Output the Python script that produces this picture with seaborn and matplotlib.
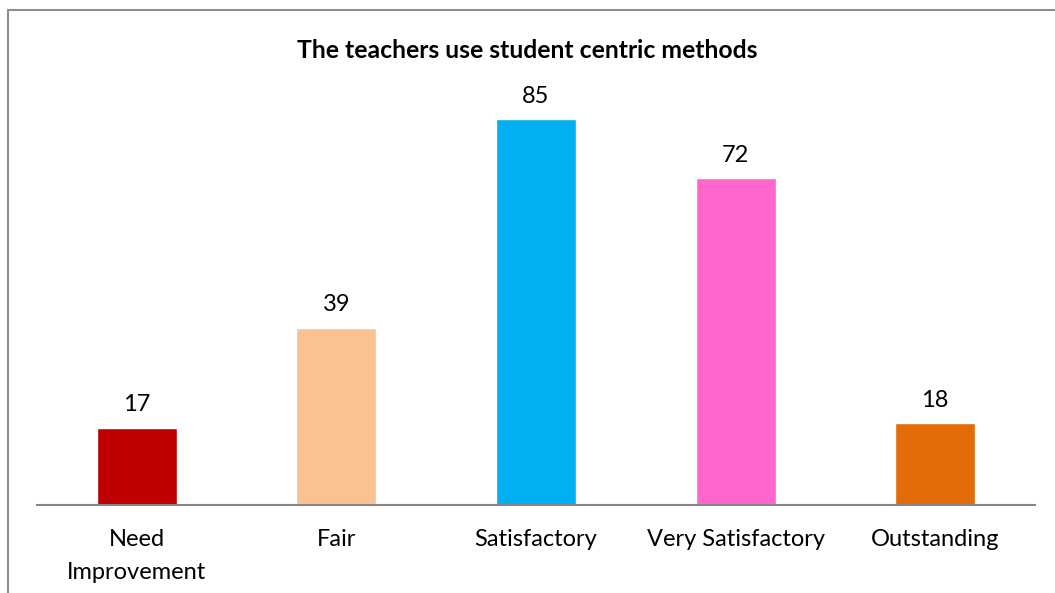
import matplotlib
matplotlib.use("Agg")
import matplotlib.pyplot as plt
import seaborn as sns
import pandas as pd
from matplotlib.patches import Rectangle

categories = ["Need\nImprovement", "Fair", "Satisfactory", "Very Satisfactory", "Outstanding"]
values = [17, 39, 85, 72, 18]
colors = ["#C00000", "#F9C290", "#00B0F0", "#FF66CC", "#E36C09"]
title = "The teachers use student centric methods"

sns.set_theme(style="white")
plt.rcParams['font.family'] = ['Lato', 'DejaVu Sans']

df = pd.DataFrame({"cat": categories, "val": values})

W, H = 1055, 593
fig = plt.figure(figsize=(W / 100, H / 100), dpi=100)
ax = fig.add_axes([37 / W, (H - 505) / H, (1035 - 37) / W, (505 - 51) / H])

sns.barplot(data=df, x="cat", y="val", hue="cat", palette=colors, dodge=False,
            width=0.4, legend=False, ax=ax, saturation=1)

ax.set_ylim(0, 100)
ax.set_xlim(-0.5, 4.5)
ax.set_xlabel("")
ax.set_ylabel("")
ax.set_yticks([])
for s in ["top", "right", "left"]:
    ax.spines[s].set_visible(False)
ax.spines["bottom"].set_color("#878787")
ax.spines["bottom"].set_linewidth(1.5)
ax.tick_params(axis="x", length=0, pad=17, labelsize=17, colors="#000000")
ax.set_xticks(range(len(categories)))
ax.set_xticklabels(categories)
for t in ax.get_xticklabels():
    t.set_linespacing(1.75)

for cont in ax.containers:
    ax.bar_label(cont, padding=9, fontsize=17, color="#000000")

fig.text(0.5, (H - 50) / H, title, ha="center", va="center", fontsize=17.8,
         fontweight="bold", color="#000000")

fig.patches.append(Rectangle((7.5 / W, -0.1), 1.2, (H - 10) / H + 0.1,
                             transform=fig.transFigure, fill=False,
                             edgecolor="#8C8C8C", linewidth=1.5))

fig.savefig("out.png", dpi=100)
